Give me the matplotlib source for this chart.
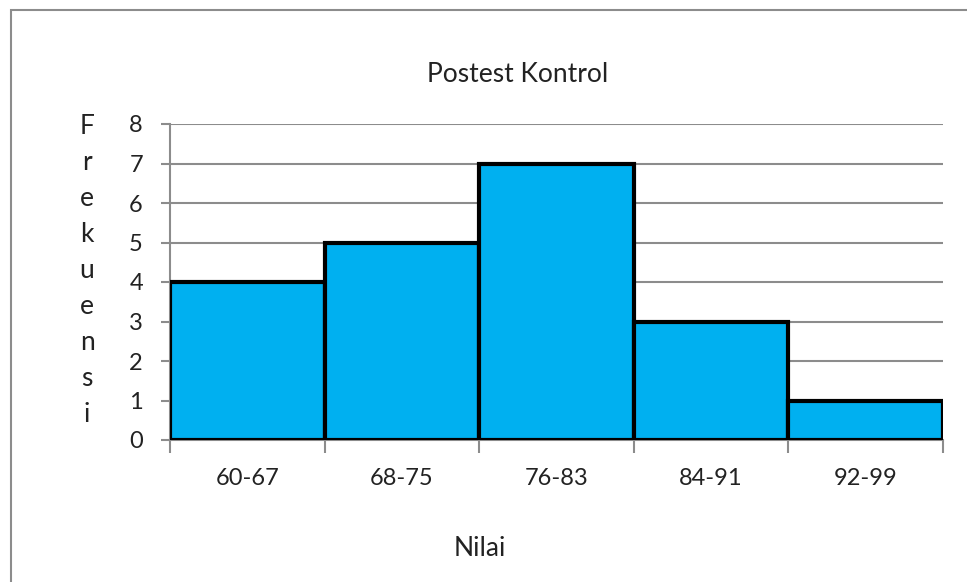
import matplotlib
matplotlib.use("Agg")
import matplotlib.pyplot as plt
from matplotlib.patches import Rectangle

categories = ["60-67", "68-75", "76-83", "84-91", "92-99"]
frequencies = [4, 5, 7, 3, 1]
y_ticks = [0, 1, 2, 3, 4, 5, 6, 7, 8]

plt.rcParams['font.family'] = ['Lato', 'DejaVu Sans']

fig = plt.figure(figsize=(9.67, 5.82), dpi=100)
ax = fig.add_axes([170/967, 1-440/582, (943-170)/967, (440-124)/582])

# outer chart frame
fig.patches.append(Rectangle((11/967, -0.05), 1.2, 1 - 10/582 + 0.05,
                             transform=fig.transFigure, fill=False,
                             edgecolor="#8c8c8c", linewidth=1.5, zorder=0))

x = list(range(len(categories)))
ax.bar(x, frequencies, width=1.0, color="#00B0F0", edgecolor="black",
       linewidth=3.0, zorder=3)

ax.set_xlim(-0.5, len(categories) - 0.5)
ax.set_ylim(0, 8)
ax.set_yticks(y_ticks)
ax.set_yticklabels([str(v) for v in y_ticks], fontsize=17, color="#222222")
ax.yaxis.grid(True, color="#8c8c8c", linewidth=1.5, zorder=0)
ax.set_axisbelow(True)

ax.set_xticks(x)
ax.set_xticklabels(categories, fontsize=17, color="#222222")
ax.set_xticks([i - 0.5 for i in range(len(categories) + 1)], minor=True)
ax.tick_params(axis="x", which="major", length=0, pad=20)
ax.tick_params(axis="x", which="minor", length=9, width=1.5, color="#8c8c8c")
ax.tick_params(axis="y", length=6.5, width=1.5, color="#8c8c8c", pad=13)

for side in ["top", "right"]:
    ax.spines[side].set_visible(False)
for side in ["left", "bottom"]:
    ax.spines[side].set_color("#8c8c8c")
    ax.spines[side].set_linewidth(1.5)

fig.text(518/967, 1-75/582, "Postest Kontrol", ha="center", va="center",
         fontsize=19, color="#222222")
fig.text(480/967, 1-548/582, "Nilai", ha="center", va="center",
         fontsize=19, color="#222222")
fig.text(87/967, 1-270/582, "\n".join("Frekuensi"), ha="center", va="center",
         fontsize=19, color="#222222", linespacing=1.55)

fig.savefig("out.png", dpi=100)
